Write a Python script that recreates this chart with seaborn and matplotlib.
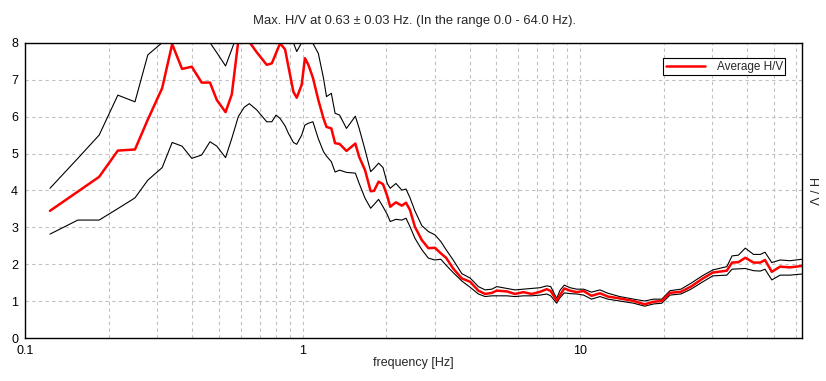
import numpy as np
import pandas as pd
import matplotlib
matplotlib.use("Agg")
import matplotlib.pyplot as plt
import seaborn as sns
from matplotlib.ticker import LogLocator, FixedLocator, FixedFormatter, NullFormatter

# %%
freq = [0.123, 0.155, 0.185, 0.216, 0.249, 0.277, 0.312, 0.339, 0.368, 0.399,
        0.433, 0.464, 0.491, 0.528, 0.556, 0.587, 0.616, 0.643, 0.684, 0.743,
        0.775, 0.803, 0.830, 0.865, 0.889, 0.927, 0.953, 0.993, 1.02, 1.05,
        1.09, 1.14, 1.19, 1.22, 1.27, 1.31, 1.36, 1.44, 1.55, 1.60,
        1.68, 1.76, 1.81, 1.88, 1.95, 2.02, 2.07, 2.17, 2.28, 2.36,
        2.44, 2.54, 2.69, 2.84, 3.00, 3.15, 3.29, 3.49, 3.75, 4.02,
        4.30, 4.55, 4.81, 5.01, 5.45, 5.83, 6.25, 6.70, 7.18, 7.59,
        7.84, 8.24, 8.47, 8.78, 9.20, 9.73, 10.3, 11.0, 11.8, 12.6,
        13.9, 15.6, 17.1, 18.4, 19.7, 21.1, 23.1, 25.1, 27.7, 30.1,
        33.8, 35.3, 37.2, 39.4, 42.2, 44.6, 46.4, 49.1, 52.6, 57.1, 63.1]

hv_avg = [3.45, 3.97, 4.37, 5.08, 5.11, 5.92, 6.77, 7.96, 7.29, 7.35,
          6.92, 6.92, 6.45, 6.12, 6.60, 8.05, 8.40, 8.02, 7.74, 7.40,
          7.44, 7.72, 7.98, 7.82, 7.36, 6.67, 6.51, 6.86, 7.58, 7.40,
          7.05, 6.45, 5.95, 5.72, 5.68, 5.28, 5.26, 5.07, 5.27, 4.91,
          4.55, 3.98, 3.99, 4.24, 4.17, 3.85, 3.56, 3.68, 3.59, 3.67,
          3.47, 3.02, 2.66, 2.44, 2.45, 2.30, 2.18, 1.89, 1.62, 1.53,
          1.29, 1.20, 1.23, 1.29, 1.27, 1.20, 1.25, 1.20, 1.26, 1.33,
          1.28, 1.02, 1.17, 1.35, 1.29, 1.25, 1.28, 1.15, 1.22, 1.13,
          1.08, 1.01, 0.92, 0.99, 1.01, 1.23, 1.26, 1.40, 1.62, 1.78,
          1.83, 2.05, 2.06, 2.18, 2.05, 2.05, 2.12, 1.80, 1.94, 1.92, 1.96]

hv_upper = [4.06, 4.87, 5.50, 6.58, 6.40, 7.67, 8.00, 8.60, 8.80, 8.60,
            8.30, 8.00, 7.73, 7.37, 7.82, 8.30, 9.50, 9.50, 9.20, 9.00,
            9.00, 9.20, 9.30, 9.00, 8.50, 8.00, 7.76, 8.00, 8.20, 8.30,
            7.98, 7.71, 7.04, 6.54, 6.63, 6.09, 6.04, 5.68, 6.01, 5.68,
            5.10, 4.51, 4.60, 4.74, 4.62, 4.19, 4.06, 4.19, 4.01, 4.04,
            3.80, 3.45, 3.05, 2.89, 2.80, 2.62, 2.40, 2.12, 1.75, 1.63,
            1.40, 1.31, 1.33, 1.40, 1.35, 1.31, 1.33, 1.35, 1.37, 1.42,
            1.40, 1.08, 1.30, 1.44, 1.37, 1.33, 1.33, 1.25, 1.31, 1.22,
            1.13, 1.06, 1.01, 1.06, 1.06, 1.29, 1.33, 1.49, 1.70, 1.85,
            1.94, 2.23, 2.25, 2.44, 2.27, 2.27, 2.33, 2.05, 2.12, 2.10, 2.14]

hv_lower = [2.82, 3.20, 3.20, 3.51, 3.80, 4.28, 4.62, 5.30, 5.20, 4.87,
            4.96, 5.32, 5.20, 4.89, 5.41, 6.00, 6.25, 6.35, 6.18, 5.86,
            5.86, 6.04, 5.95, 5.75, 5.55, 5.30, 5.25, 5.50, 5.77, 5.82,
            5.86, 5.40, 5.05, 4.93, 4.78, 4.50, 4.55, 4.49, 4.47, 4.19,
            3.79, 3.52, 3.62, 3.76, 3.56, 3.35, 3.16, 3.22, 3.20, 3.25,
            3.02, 2.71, 2.40, 2.17, 2.12, 2.14, 1.98, 1.78, 1.55, 1.38,
            1.20, 1.13, 1.15, 1.15, 1.15, 1.13, 1.15, 1.15, 1.17, 1.20,
            1.15, 0.95, 1.10, 1.23, 1.21, 1.20, 1.17, 1.06, 1.13, 1.06,
            1.01, 0.95, 0.87, 0.93, 0.95, 1.17, 1.20, 1.33, 1.53, 1.69,
            1.71, 1.87, 1.88, 1.89, 1.83, 1.82, 1.87, 1.58, 1.71, 1.71, 1.74]

x_ticks = [0.1, 1, 10]
x_ticklabels = ['0.1', '1', '10']

# %%
df = pd.DataFrame({'freq': freq, 'avg': hv_avg, 'up': hv_upper, 'low': hv_lower})

sns.set_style("white")
plt.rcParams['font.family'] = ['Liberation Sans', 'DejaVu Sans']

fig = plt.figure(figsize=(8.26, 3.81), dpi=100)
ax = fig.add_axes([0.0303, 0.112, 0.9407, 0.776])

sns.lineplot(data=df, x='freq', y='up', color='black', linewidth=0.8, ax=ax)
sns.lineplot(data=df, x='freq', y='low', color='black', linewidth=0.8, ax=ax)
sns.lineplot(data=df, x='freq', y='avg', color='#ff0000', linewidth=1.8,
             label='Average H/V', ax=ax)

ax.set_xscale('log')
ax.set_xlim(0.1, 63.1)
ax.set_ylim(0, 8)

ax.xaxis.set_major_locator(FixedLocator(x_ticks))
ax.xaxis.set_major_formatter(FixedFormatter(x_ticklabels))
ax.xaxis.set_minor_locator(LogLocator(base=10, subs=np.arange(2, 10)))
ax.xaxis.set_minor_formatter(NullFormatter())
ax.set_yticks(range(0, 9))

ax.grid(True, which='both', axis='x', color='#c0c0c0', linestyle=(0, (3, 3)), linewidth=0.8)
ax.grid(True, which='major', axis='y', color='#c0c0c0', linestyle=(0, (3, 3)), linewidth=0.8)
ax.tick_params(which='both', length=0, labelsize=9, colors='black')
ax.tick_params(axis='x', pad=5)
ax.tick_params(axis='y', pad=5)

for s in ax.spines.values():
    s.set_color('black')
    s.set_linewidth(1.0)

ax.set_xlabel('frequency [Hz]', fontsize=9, labelpad=0)
ax.set_ylabel('')
fig.text(0.983, 0.5, 'H / V', rotation=270, fontsize=9, ha='center', va='center')
fig.text(0.502, 0.945, 'Max. H/V at 0.63 ± 0.03 Hz. (In the range 0.0 - 64.0 Hz).',
         fontsize=9.4, ha='center', va='center')

leg = ax.legend(loc='upper right', bbox_to_anchor=(0.976, 0.941), fontsize=8.5,
                frameon=True, fancybox=False, handlelength=3.3, borderpad=0.05,
                handletextpad=1.0, borderaxespad=0)
leg.get_frame().set_edgecolor('black')
leg.get_frame().set_linewidth(0.8)
leg.get_frame().set_boxstyle('square', pad=0.15)
leg.get_frame().set_alpha(1)

fig.savefig('out.png', dpi=100)
